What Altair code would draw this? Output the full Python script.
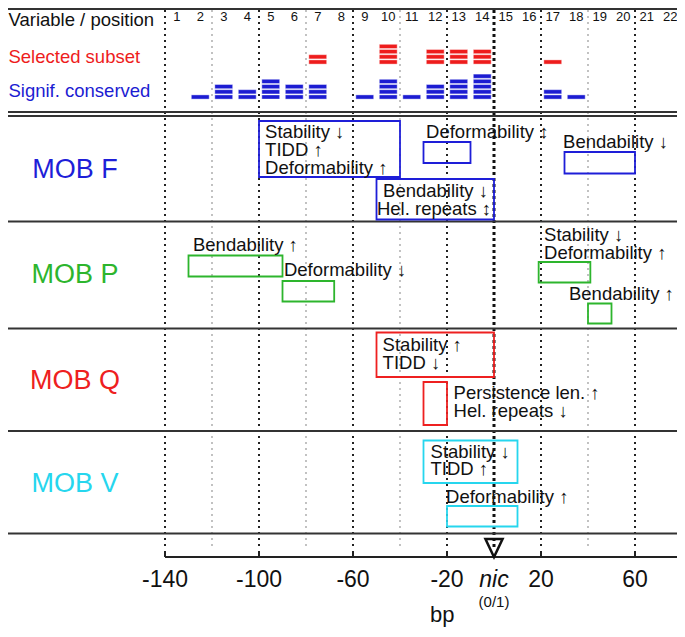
import altair as alt
import pandas as pd

# ------------------------------------------------------------------ data
positions = list(range(1, 23))
selected_counts = [0, 0, 0, 0, 0, 0, 2, 0, 0, 4, 0, 3, 3, 3, 0, 0, 1, 0, 0, 0, 0, 0]
conserved_counts = [0, 1, 3, 2, 4, 3, 3, 0, 1, 4, 1, 3, 4, 5, 0, 0, 2, 1, 0, 0, 0, 0]
series_names = ["Selected subset", "Signif. conserved"]
series_colors = ["#ee1c1c", "#1c1cd2"]

tick_values = [-140, -100, -60, -20, 20, 60]
tick_labels = ["-140", "-100", "-60", "-20", "20", "60"]
grid_major = [-140, -100, -60, -20, 20, 60]
grid_minor = [-120, -80, -40, 40, 80]
nic_value = 0
axis_end = 80

mob_names = ["MOB F", "MOB P", "MOB Q", "MOB V"]
mob_colors = ["#1e1ed8", "#2db52d", "#ee2020", "#26d6ee"]

box_mob = ["MOB F", "MOB F", "MOB F", "MOB F",
           "MOB P", "MOB P", "MOB P", "MOB P",
           "MOB Q", "MOB Q",
           "MOB V", "MOB V"]
box_start = [-100, -30, 30, -50, -130, -90, 19, 40, -50, -30, -30, -20]
box_end = [-40, -10, 60, 0, -90, -68, 41, 50, 0, -20, 10, 10]
box_labels = [
    ["Stability ↓", "TIDD ↑", "Deformability ↑"],
    ["Deformability ↕"],
    ["Bendability ↓"],
    ["Bendability ↓", "Hel. repeats ↕"],
    ["Bendability ↑"],
    ["Deformability ↓"],
    ["Stability ↓", "Deformability ↑"],
    ["Bendability ↑"],
    ["Stability ↑", "TIDD ↓"],
    ["Persistence len. ↑", "Hel. repeats ↓"],
    ["Stability ↓", "TIDD ↑"],
    ["Deformability ↑"],
]

# ------------------------------------------------------------------ layout
FONT = "'Liberation Sans', 'DejaVu Sans', sans-serif"
W, H = 669, 621
PX_PER_BP = 2.35
XMIN = -140 - (165 - 8) / PX_PER_BP
XMAX = XMIN + W / PX_PER_BP
YMIN, YMAX = 8, 8 + H

box_top = [121, 142, 152, 179, 255.5, 281, 262, 303.5, 332.5, 382, 440.5, 506]
box_bottom = [177, 163, 173.5, 219.5, 276.5, 301.5, 282.5, 323.5, 377, 425, 483, 526.5]
label_x = [[-97.4, -97.4, -97.4], [-28.9], [29.4], [-47.2, -49.8], [-128.1], [-89.4],
           [21.3, 21.3], [31.9], [-47.4, -47.4], [-17.2, -17.2], [-27.0, -27.0], [-20.4]]
label_y0 = [132.4, 132.4, 142.3, 190.9, 244.8, 269.5, 235.0, 294.3, 344.8, 393.3, 451.5, 496.7]
LINE_STEP = 17.8
mob_label_y = [170, 275, 381, 484]
separator_y = [8.9, 112, 116, 221.5, 328.5, 431, 533.5]
series_base = [62, 97]
BAR_STEP, BAR_HALF = 5.2, 2.1
GRID_TOP, GRID_BOTTOM = 10, 548
AXIS_Y = 557
LEFT_TEXT_X = XMIN + 0.2

xs = alt.Scale(domain=[XMIN, XMAX], nice=False, zero=False)
ys = alt.Scale(domain=[YMIN, YMAX], nice=False, zero=False, reverse=True)


def X(f):
    return alt.X(f"{f}:Q", scale=xs, axis=None)


def Y(f):
    return alt.Y(f"{f}:Q", scale=ys, axis=None)


mob_color_of = dict(zip(mob_names, mob_colors))

# ------------------------------------------------------------------ tables
bar_rows = []
for name, col, counts, base in zip(series_names, series_colors,
                                   [selected_counts, conserved_counts], series_base):
    for p, c in zip(positions, counts):
        start = -140 + 10 * (p - 1)
        for lvl in range(c):
            yc = base - lvl * BAR_STEP
            bar_rows.append(dict(series=name, color=col, x=start + 1.2, x2=start + 8.8,
                                 y=yc - BAR_HALF, y2=yc + BAR_HALF))
bars_df = pd.DataFrame(bar_rows)

col_df = pd.DataFrame(dict(label=[str(p) for p in positions],
                           x=[-135 + 10 * (p - 1) for p in positions],
                           y=[17] * len(positions)))

row_df = pd.DataFrame(dict(label=["Variable / position"] + series_names,
                           color=["#111111"] + series_colors,
                           x=[LEFT_TEXT_X] * 3, y=[20, 56.6, 91]))

sep_df = pd.DataFrame(dict(y=separator_y, x=[XMIN] * len(separator_y),
                           x2=[XMAX] * len(separator_y)))


def grid_df(vals):
    return pd.DataFrame(dict(x=vals, y=[GRID_TOP] * len(vals), y2=[GRID_BOTTOM] * len(vals)))


mob_df = pd.DataFrame(dict(label=mob_names, color=mob_colors, x=[-178.3] * 4, y=mob_label_y))

box_df = pd.DataFrame(dict(mob=box_mob, color=[mob_color_of[m] for m in box_mob],
                           x=box_start, x2=box_end, y=box_top, y2=box_bottom))

lab_rows = []
for i, lines in enumerate(box_labels):
    for j, t in enumerate(lines):
        lab_rows.append(dict(label=t, x=label_x[i][j], y=label_y0[i] + j * LINE_STEP))
lab_df = pd.DataFrame(lab_rows)

axis_df = pd.DataFrame(dict(x=[-140], x2=[axis_end], y=[AXIS_Y]))
tick_df = pd.DataFrame(dict(x=tick_values + [axis_end],
                            y=[AXIS_Y - 6] * (len(tick_values) + 1),
                            y2=[AXIS_Y] * (len(tick_values) + 1)))
ticklab_df = pd.DataFrame(dict(label=tick_labels, x=tick_values, y=[580] * len(tick_values)))
nic_df = pd.DataFrame(dict(label=["nic"], x=[nic_value], y=[580]))
nic2_df = pd.DataFrame(dict(label=["(0/1)"], x=[nic_value], y=[602]))
bp_df = pd.DataFrame(dict(label=["bp"], x=[-22], y=[615]))
tri_df = pd.DataFrame(dict(x=[nic_value], y=[548]))

# ------------------------------------------------------------------ layers
seps = alt.Chart(sep_df).mark_rule(color="#333333", strokeWidth=2.2).encode(
    x=X("x"), x2="x2", y=Y("y"))

g_major = alt.Chart(grid_df(grid_major)).mark_rule(
    color="#222222", strokeWidth=2, strokeDash=[2, 4]).encode(x=X("x"), y=Y("y"), y2="y2")
g_minor = alt.Chart(grid_df(grid_minor)).mark_rule(
    color="#a8a8a8", strokeWidth=1.4, strokeDash=[2, 4]).encode(x=X("x"), y=Y("y"), y2="y2")
g_nic = alt.Chart(grid_df([nic_value])).mark_rule(
    color="#111111", strokeWidth=3, strokeDash=[3, 3]).encode(x=X("x"), y=Y("y"), y2="y2")

bars = alt.Chart(bars_df).mark_rect(stroke="#ffffff", strokeWidth=0.4).encode(
    x=X("x"), x2="x2", y=Y("y"), y2="y2",
    color=alt.Color("color:N", scale=None))

cols = alt.Chart(col_df).mark_text(font=FONT, fontSize=13, color="#111111").encode(
    x=X("x"), y=Y("y"), text="label:N")

rows_t = alt.Chart(row_df).mark_text(font=FONT, fontSize=18.5, align="left",
                                     baseline="middle").encode(
    x=X("x"), y=Y("y"), text="label:N",
    color=alt.Color("color:N", scale=None))

mobs = alt.Chart(mob_df).mark_text(font=FONT, fontSize=27, baseline="middle").encode(
    x=X("x"), y=Y("y"), text="label:N",
    color=alt.Color("color:N", scale=None))

boxes = alt.Chart(box_df).mark_rect(fill="transparent", strokeWidth=1.8).encode(
    x=X("x"), x2="x2", y=Y("y"), y2="y2",
    stroke=alt.Stroke("color:N", scale=None))

labels = alt.Chart(lab_df).mark_text(font=FONT, fontSize=18.5, align="left",
                                     baseline="middle", color="#111111").encode(
    x=X("x"), y=Y("y"), text="label:N")

axis_line = alt.Chart(axis_df).mark_rule(color="#222222", strokeWidth=2).encode(
    x=X("x"), x2="x2", y=Y("y"))
ticks = alt.Chart(tick_df).mark_rule(color="#222222", strokeWidth=2).encode(
    x=X("x"), y=Y("y"), y2="y2")
ticklabs = alt.Chart(ticklab_df).mark_text(font=FONT, fontSize=23, baseline="middle",
                                           color="#111111").encode(
    x=X("x"), y=Y("y"), text="label:N")
nic = alt.Chart(nic_df).mark_text(font=FONT, fontSize=23, fontStyle="italic",
                                  baseline="middle", color="#111111").encode(
    x=X("x"), y=Y("y"), text="label:N")
nic2 = alt.Chart(nic2_df).mark_text(font=FONT, fontSize=15, baseline="middle",
                                    color="#111111").encode(
    x=X("x"), y=Y("y"), text="label:N")
bp = alt.Chart(bp_df).mark_text(font=FONT, fontSize=22, baseline="middle",
                                color="#111111").encode(
    x=X("x"), y=Y("y"), text="label:N")
tri = alt.Chart(tri_df).mark_point(shape="M -0.95 -1 L 0.95 -1 L 0 1 Z", size=324,
                                   filled=False, color="#111111", strokeWidth=2.5,
                                   opacity=1).encode(x=X("x"), y=Y("y"))

chart = alt.layer(
    g_minor, g_major, g_nic, seps, bars, cols, rows_t, mobs, boxes, labels,
    axis_line, ticks, ticklabs, nic, nic2, bp, tri
).properties(
    width=W, height=H, padding=0, autosize="none", background="white"
).configure_view(stroke=None)

chart.save("out.html", embed_options={"renderer": "svg", "actions": False})
